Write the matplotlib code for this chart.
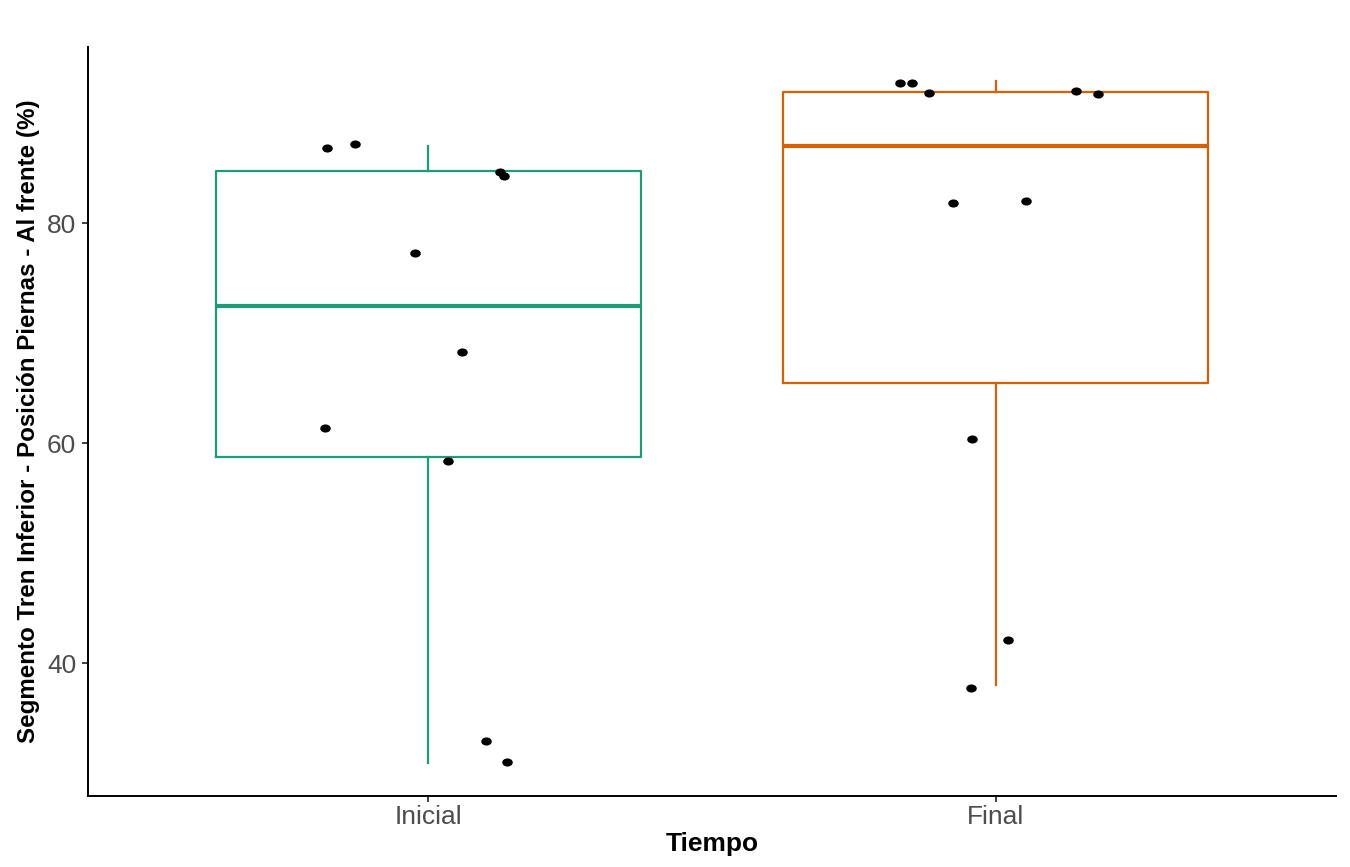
import matplotlib
matplotlib.use("Agg")
import matplotlib.pyplot as plt
from matplotlib.path import Path
from matplotlib.markers import MarkerStyle
from matplotlib.transforms import Affine2D
import numpy as np

# ---- data ----
categories = ["Inicial", "Final"]
colors = ["#1B9E77", "#D95F02"]

# box statistics per group
box_whislo = [30.97, 38.03]
box_q1 = [58.75, 65.51]
box_med = [72.51, 87.00]
box_q3 = [84.72, 91.96]
box_whishi = [87.03, 92.96]

# jittered points: horizontal offset from category centre, and value
inicial_offsets = [-0.179, -0.130, -0.023, 0.060, -0.182, 0.034, 0.126, 0.133, 0.101, 0.138]
inicial_values = [86.82, 87.18, 77.27, 68.30, 61.36, 58.39, 84.64, 84.33, 32.96, 31.03]
final_offsets = [-0.168, -0.148, -0.118, 0.142, 0.180, -0.075, 0.053, -0.042, 0.021, -0.044]
final_values = [92.78, 92.78, 91.87, 92.05, 91.73, 81.85, 82.00, 60.36, 42.12, 37.73]

y_ticks = [40, 60, 80]
x_label = "Tiempo"
y_label = "Segmento Tren Inferior - Posición Piernas - Al frente (%)"

# ---- figure ----
fig = plt.figure(figsize=(13.5, 8.67), dpi=100)
ax = fig.add_axes([88 / 1350, 71 / 867, 1248 / 1350, 749 / 867])

positions = np.arange(1, len(categories) + 1)
for i, pos in enumerate(positions):
    stats = [dict(med=box_med[i], q1=box_q1[i], q3=box_q3[i],
                  whislo=box_whislo[i], whishi=box_whishi[i], fliers=[])]
    ax.bxp(stats, positions=[pos], widths=0.75, showcaps=False,
           showfliers=False, patch_artist=False,
           boxprops=dict(color=colors[i], linewidth=1.6),
           whiskerprops=dict(color=colors[i], linewidth=1.6),
           medianprops=dict(color=colors[i], linewidth=3.0,
                            solid_capstyle="butt"))

# elliptical marker (reference points are slightly wider than tall)
ell = Path.unit_circle().transformed(Affine2D().scale(1.3, 1.0))
marker = MarkerStyle(ell)

groups = [(inicial_offsets, inicial_values), (final_offsets, final_values)]
for pos, (offs, vals) in zip(positions, groups):
    ax.scatter(pos + np.array(offs), vals, marker=marker, s=7.6 ** 2,
               color="black", linewidths=0, zorder=5)

ax.set_xlim(0.4, 2.6)
ax.set_ylim(27.94, 96.03)
ax.set_xticks(positions)
ax.set_xticklabels(categories)
ax.set_yticks(y_ticks)

for s in ["top", "right"]:
    ax.spines[s].set_visible(False)
for s in ["left", "bottom"]:
    ax.spines[s].set_linewidth(1.4)
    ax.spines[s].set_color("black")

ax.tick_params(axis="both", length=4.5, width=1.3, color="#333333",
               labelcolor="#4D4D4D", labelsize=19)
ax.tick_params(axis="y", pad=4)
ax.tick_params(axis="x", pad=2)
for lab in ax.get_xticklabels() + ax.get_yticklabels():
    lab.set_family(["Liberation Sans", "DejaVu Sans"])

ax.set_xlabel(x_label, family=["Liberation Sans", "DejaVu Sans"],
              fontweight="bold", fontsize=19, color="black", labelpad=2)
ax.set_ylabel(y_label, family=["Liberation Sans Narrow", "Liberation Sans", "DejaVu Sans"],
              fontweight="bold", fontsize=17.4, color="black", labelpad=5)

fig.savefig("out.png", dpi=100, facecolor="white")
